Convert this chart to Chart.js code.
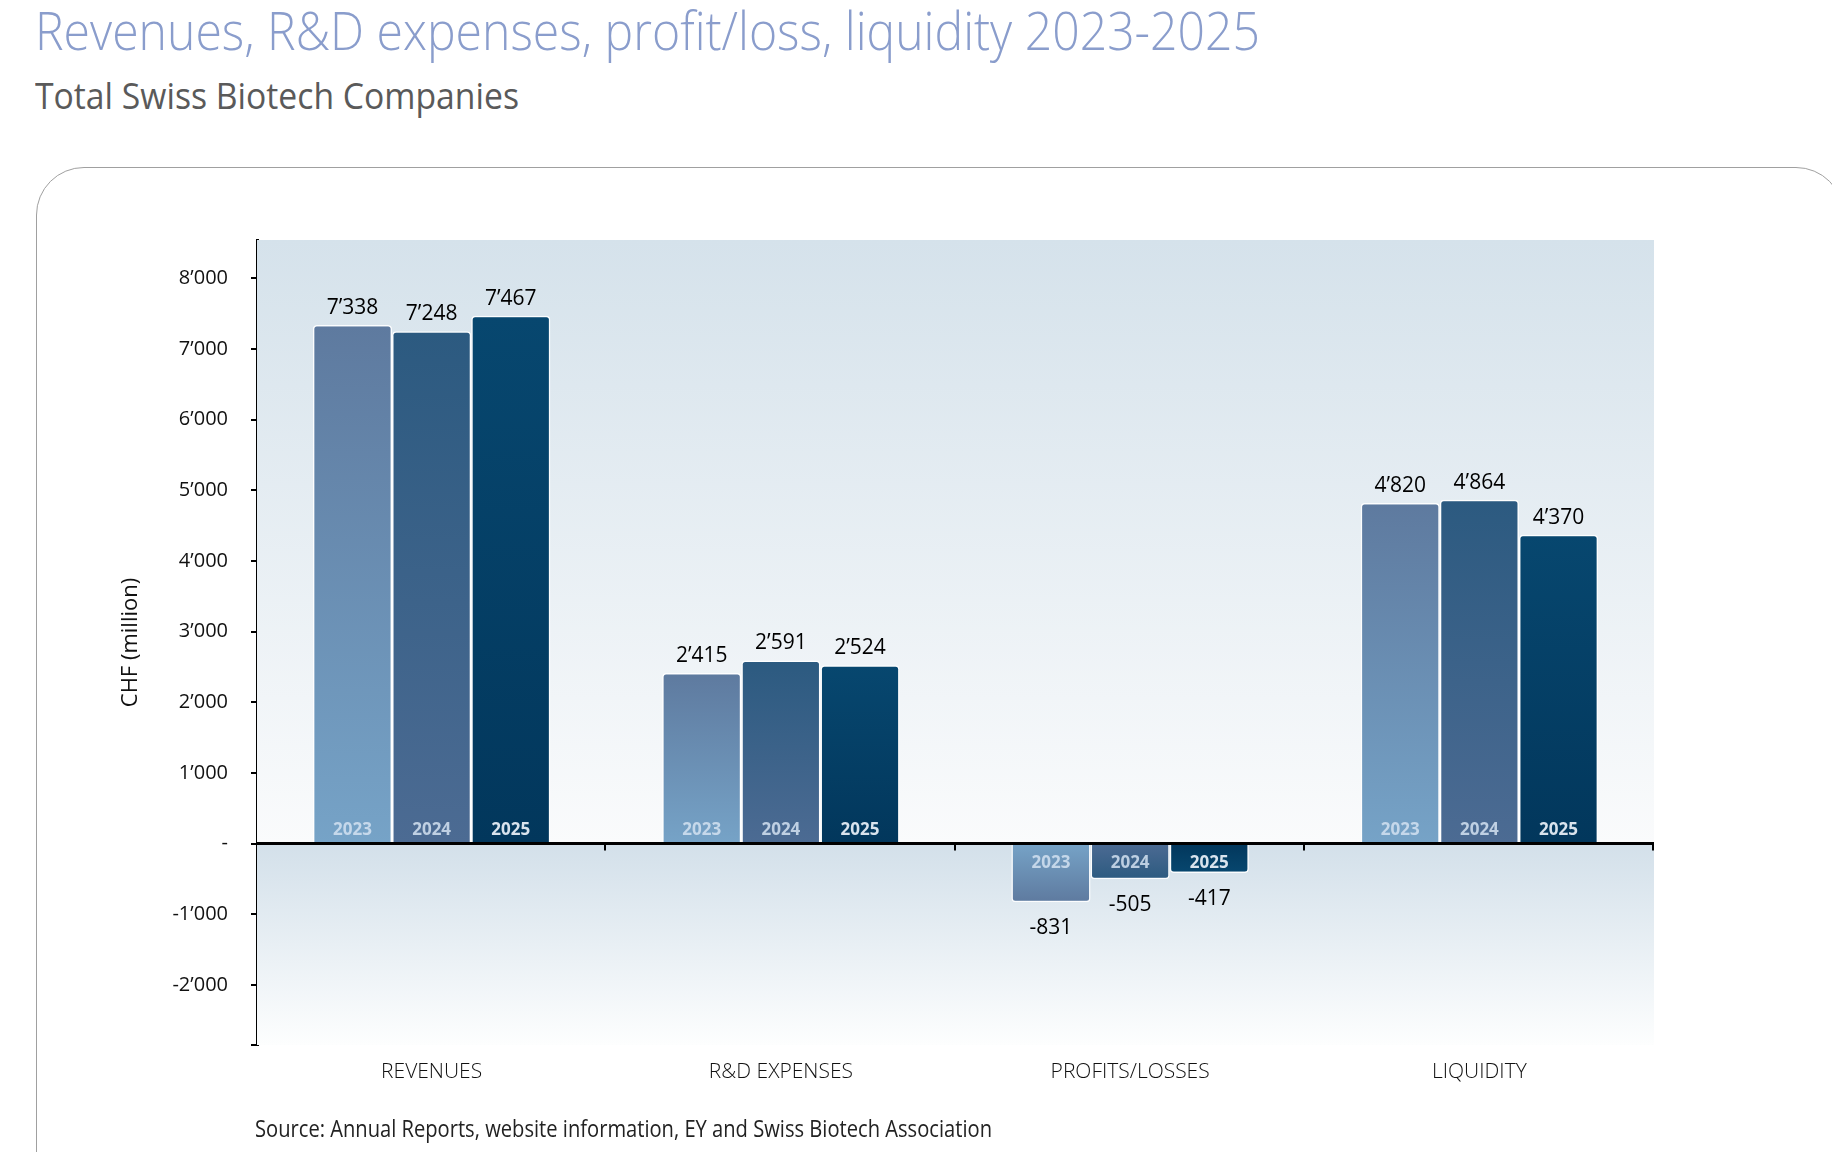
<!DOCTYPE html>
<html>
<head>
<meta charset="utf-8">
<title>Revenues, R&amp;D expenses, profit/loss, liquidity 2023-2025</title>
<script src="https://cdn.jsdelivr.net/npm/chart.js@4.4.1/dist/chart.umd.min.js"></script>
<style>
  html, body { margin: 0; padding: 0; background: #fff; }
  body { width: 1832px; height: 1152px; position: relative; overflow: hidden; font-family: "Open Sans", sans-serif; }
  .fit { position: absolute; white-space: nowrap; transform-origin: 0 0; line-height: 1; }
  #title { left: 35px; top: 2px; font-size: 54px; font-weight: 300; color: #8a9dcc; }
  #subtitle { left: 35px; top: 76px; font-size: 37px; font-weight: 400; color: #5a5a5a; }
  #source { left: 255px; top: 1117px; font-size: 23px; font-weight: 400; color: #222; }
  #card { position: absolute; left: 36px; top: 167px; width: 1808px; height: 1100px; border: 1.5px solid #a0a0a0; border-radius: 48px; box-sizing: border-box; }
  #chart { position: absolute; left: 0; top: 0; }
</style>
</head>
<body>
<div id="title" class="fit" data-w="1225">Revenues, R&amp;D expenses, profit/loss, liquidity 2023-2025</div>
<div id="subtitle" class="fit" data-w="484">Total Swiss Biotech Companies</div>
<div id="card"></div>
<canvas id="chart" width="1832" height="1152"></canvas>
<div id="source" class="fit" data-w="737">Source: Annual Reports, website information, EY and Swiss Biotech Association</div>

<script>
// data (CHF million)
const categories = ['REVENUES', 'R&D EXPENSES', 'PROFITS/LOSSES', 'LIQUIDITY'];
const years = ['2023', '2024', '2025'];
const values2023 = [7338, 2415, -831, 4820];
const values2024 = [7248, 2591, -505, 4864];
const values2025 = [7467, 2524, -417, 4370];
const yTicks = [-2000, -1000, 0, 1000, 2000, 3000, 4000, 5000, 6000, 7000, 8000];
const yMin = -2850;
const yMax = 8540;

// bar colours: at the zero line and at the bar end
const baseColors = ['#76a3c7', '#4c6b93', '#02375c'];
const endColors = ['#5e7a9f', '#2c5a80', '#07476f'];

function fmt(v) {
    if (v === 0) return '-';
    const s = Math.abs(v).toString().replace(/\B(?=(\d{3})+(?!\d))/g, '\u2019');
    return (v < 0 ? '-' : '') + s;
}

function barFill(ctx, i) {
    const chart = ctx.chart;
    const y = chart.scales.y;
    if (!y || ctx.type !== 'data') return endColors[i];
    const p0 = y.getPixelForValue(0);
    const p1 = y.getPixelForValue(ctx.raw);
    if (!isFinite(p0) || !isFinite(p1) || p0 === p1) return endColors[i];
    const g = chart.ctx.createLinearGradient(0, p0, 0, p1);
    g.addColorStop(0, baseColors[i]);
    g.addColorStop(1, endColors[i]);
    return g;
}

// plot background: two fades, above and below zero
const plotBackground = {
    id: 'plotBackground',
    beforeDatasetsDraw(chart) {
        const { ctx, chartArea: a, scales: { y } } = chart;
        const y0 = y.getPixelForValue(0);
        ctx.save();
        let g = ctx.createLinearGradient(0, a.top, 0, y0);
        g.addColorStop(0, '#d5e2eb');
        g.addColorStop(1, '#fafbfc');
        ctx.fillStyle = g;
        ctx.fillRect(a.left, a.top, a.right - a.left, y0 - a.top);
        g = ctx.createLinearGradient(0, y0, 0, a.bottom);
        g.addColorStop(0, '#d3e0ea');
        g.addColorStop(1, '#fdfefe');
        ctx.fillStyle = g;
        ctx.fillRect(a.left, y0, a.right - a.left, a.bottom - y0);
        ctx.restore();
    }
};

// zero line, category ticks, value and year labels
const barLabels = {
    id: 'barLabels',
    afterDatasetsDraw(chart) {
        const { ctx, chartArea: a, scales: { y } } = chart;
        const y0 = y.getPixelForValue(0);
        ctx.save();

        ctx.strokeStyle = '#000';
        ctx.lineWidth = 3;
        ctx.beginPath();
        ctx.moveTo(a.left, y0);
        ctx.lineTo(a.right, y0);
        ctx.stroke();
        ctx.lineWidth = 2;
        const step = (a.right - a.left) / categories.length;
        for (let k = 1; k <= categories.length; k++) {
            const x = Math.round(a.left + k * step) - 1;
            ctx.beginPath();
            ctx.moveTo(x, y0);
            ctx.lineTo(x, y0 + 7);
            ctx.stroke();
        }

        ctx.textAlign = 'center';
        ctx.textBaseline = 'alphabetic';
        chart.data.datasets.forEach((ds, di) => {
            const meta = chart.getDatasetMeta(di);
            meta.data.forEach((bar, i) => {
                const v = ds.data[i];
                ctx.fillStyle = '#000';
                ctx.font = '400 21px "Open Sans"';
                if (v >= 0) {
                    ctx.fillText(fmt(v), bar.x, bar.y - 11);
                } else {
                    ctx.fillText(fmt(v), bar.x, bar.y + 32);
                }
                ctx.font = '700 17px "Open Sans"';
                ctx.fillStyle = di === 2 ? 'rgba(235,242,250,0.92)' : 'rgba(212,226,241,0.85)';
                ctx.fillText(ds.label, bar.x, v >= 0 ? y0 - 9 : y0 + 24);
            });
        });
        ctx.restore();
    }
};

const datasets = [values2023, values2024, values2025].map((vals, i) => ({
    label: years[i],
    data: vals,
    backgroundColor: ctx => barFill(ctx, i),
    borderColor: 'rgba(255,255,255,0.9)',
    borderWidth: 1.5,
    borderRadius: 4,
    barPercentage: 1,
    categoryPercentage: 0.68
}));

new Chart(document.getElementById('chart'), {
    type: 'bar',
    data: { labels: categories, datasets: datasets },
    options: {
        responsive: false,
        animation: false,
        layout: { padding: { top: 240, right: 178, left: 0, bottom: 0 } },
        plugins: {
            legend: { display: false },
            tooltip: { enabled: false }
        },
        scales: {
            x: {
                grid: { display: false },
                border: { display: false },
                ticks: {
                    color: '#111',
                    padding: 6,
                    font: { family: 'Open Sans', size: 21, weight: '300' }
                },
                afterFit(scale) { scale.height = 107; }
            },
            y: {
                min: yMin,
                max: yMax,
                afterBuildTicks(scale) {
                    scale.ticks = [yMin].concat(yTicks).map(v => ({ value: v }));
                },
                afterFit(scale) { scale.width = 257; },
                grid: {
                    drawOnChartArea: false,
                    drawTicks: true,
                    tickLength: 6,
                    color: '#000',
                    lineWidth: 2
                },
                border: { display: true, color: '#000', width: 3 },
                ticks: {
                    color: '#111',
                    padding: 23,
                    font: { family: 'Open Sans', size: 20, weight: '400' },
                    callback: v => (v === yMin ? '' : fmt(v))
                },
                title: {
                    display: true,
                    text: 'CHF (million)',
                    color: '#111',
                    font: { family: 'Open Sans', size: 22, weight: '400' },
                    padding: { top: 118, bottom: 0 }
                }
            }
        }
    },
    plugins: [plotBackground, barLabels]
});

// squeeze the HTML texts to the narrow widths of the original typeface
function fitTexts() {
    document.querySelectorAll('.fit').forEach(el => {
        el.style.transform = 'none';
        const w = el.getBoundingClientRect().width;
        const target = Number(el.dataset.w);
        if (w > 0) el.style.transform = 'scaleX(' + (target / w) + ')';
    });
}
fitTexts();
if (document.fonts) document.fonts.ready.then(fitTexts);
</script>
</body>
</html>
